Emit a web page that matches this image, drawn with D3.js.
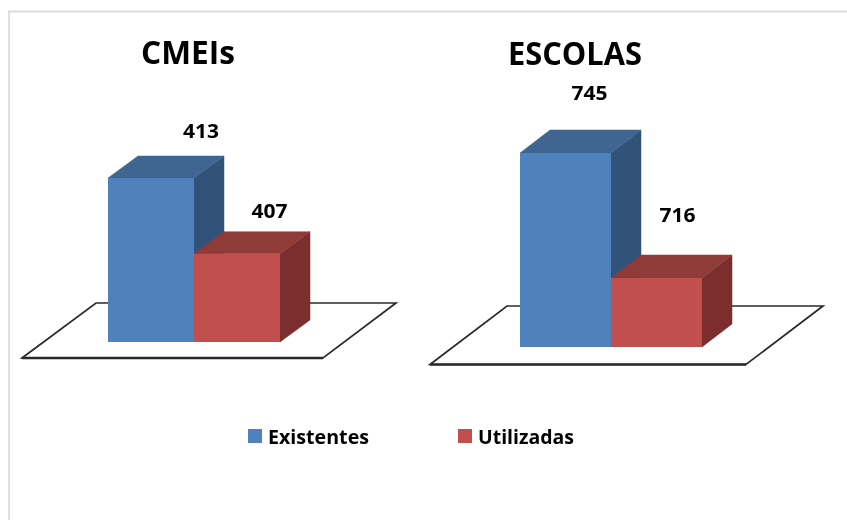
<!DOCTYPE html>
<html>
<head>
<meta charset="utf-8">
<script src="https://cdn.jsdelivr.net/npm/d3@7/dist/d3.min.js"></script>
<style>
html,body{margin:0;padding:0;background:#fff;}
svg{display:block;}
text{font-family:"Open Sans",sans-serif;font-weight:700;fill:#050505;}
</style>
</head>
<body>
<svg id="chart" width="847" height="520"></svg>
<script>
const seriesNames = ["Existentes", "Utilizadas"];
const panelTitles = ["CMEIs", "ESCOLAS"];
const cmeiValues = [413, 407];
const escolaValues = [745, 716];
const axisMins = [400, 700];
const frontColors = ["#4f81bd", "#c0504d"];
const topColors = ["#3f6591", "#8f3a38"];
const sideColors = ["#335379", "#7b2f2d"];

const W = 847, H = 520;
const svg = d3.select("#chart").attr("viewBox", [0, 0, W, H]);

const defs = svg.append("defs");
defs.append("filter").attr("id", "soft")
  .attr("x", "-5%").attr("y", "-5%").attr("width", "110%").attr("height", "110%")
  .append("feGaussianBlur").attr("stdDeviation", 0.55);

const root = svg.append("g").attr("filter", "url(#soft)");

// outer frame
root.append("path")
  .attr("d", d3.line()([[9, 520], [9, 11.5], [847, 11.5]]))
  .attr("fill", "none").attr("stroke", "#dcdcdc").attr("stroke-width", 1.8);

const layouts = [
  { xRange: [108, 281], yRange: [342, 178], dx: 30, dy: 22,
    floor: [[22, 358], [323, 358], [396, 303], [96, 303]],
    title: { x: 141, y: 64, len: 94 },
    labels: [[201, 137.5], [269.5, 217.5]] },
  { xRange: [520, 702], yRange: [347, 153], dx: 30, dy: 23,
    floor: [[430, 364.5], [746, 364.5], [823, 306], [507, 306]],
    title: { x: 508, y: 65, len: 134 },
    labels: [[589.5, 99.5], [677.5, 221.5]] }
];

const panelData = [cmeiValues, escolaValues];

panelData.forEach((values, p) => {
  const L = layouts[p];
  const g = root.append("g");
  const x = d3.scaleBand().domain(seriesNames).rangeRound(L.xRange).padding(0).align(0);
  const y = d3.scaleLinear().domain([axisMins[p], values[0]]).range(L.yRange);
  const base = y(axisMins[p]);

  // floor
  g.append("path")
    .attr("d", d3.line()(L.floor) + "Z")
    .attr("fill", "#fff").attr("stroke", "#2a2a2a")
    .attr("stroke-width", 1.7).attr("stroke-linejoin", "miter");
  g.append("path")
    .attr("d", d3.line()(L.floor.slice(0, 2)))
    .attr("fill", "none").attr("stroke", "#2a2a2a").attr("stroke-width", 2.4);

  // bars: draw back-to-front, left-to-right
  values.forEach((v, i) => {
    const x0 = x(seriesNames[i]), x1 = x0 + x.bandwidth(), t = y(v);
    const line = d3.line();
    g.append("path")
      .attr("d", line([[x1, t], [x1 + L.dx, t - L.dy], [x1 + L.dx, base - L.dy], [x1, base]]) + "Z")
      .attr("fill", sideColors[i]).attr("stroke", sideColors[i]).attr("stroke-width", 0.5);
    g.append("path")
      .attr("d", line([[x0, t], [x0 + L.dx, t - L.dy], [x1 + L.dx, t - L.dy], [x1, t]]) + "Z")
      .attr("fill", topColors[i]).attr("stroke", topColors[i]).attr("stroke-width", 0.5);
    g.append("rect")
      .attr("x", x0).attr("y", t)
      .attr("width", x.bandwidth()).attr("height", base - t)
      .attr("fill", frontColors[i]);
  });

  // title
  g.append("text")
    .attr("x", L.title.x).attr("y", L.title.y)
    .attr("font-size", 32)
    .attr("textLength", L.title.len).attr("lengthAdjust", "spacingAndGlyphs")
    .text(panelTitles[p]);

  // value labels
  values.forEach((v, i) => {
    g.append("text")
      .attr("x", L.labels[i][0] - 18).attr("y", L.labels[i][1])
      .attr("font-size", 19.5)
      .attr("textLength", 36).attr("lengthAdjust", "spacingAndGlyphs")
      .text(v);
  });
});

// legend
const legendSwatchX = [248, 458];
const legendTextLen = [101, 96];
seriesNames.forEach((name, i) => {
  const g = root.append("g");
  g.append("rect")
    .attr("x", legendSwatchX[i]).attr("y", 429)
    .attr("width", 14).attr("height", 14)
    .attr("fill", frontColors[i]);
  g.append("text")
    .attr("x", legendSwatchX[i] + 20).attr("y", 444)
    .attr("font-size", 20)
    .attr("textLength", legendTextLen[i]).attr("lengthAdjust", "spacingAndGlyphs")
    .text(name);
});
</script>
</body>
</html>
